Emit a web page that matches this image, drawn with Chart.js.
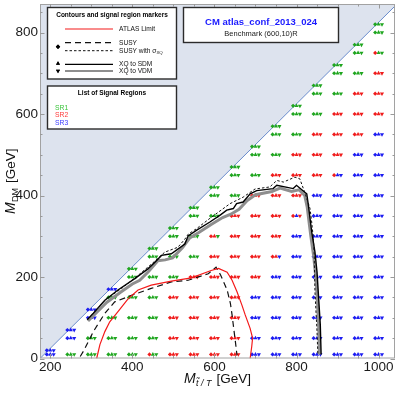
<!DOCTYPE html>
<html><head><meta charset="utf-8">
<script src="https://cdn.jsdelivr.net/npm/chart.js@4.4.1/dist/chart.umd.min.js"></script>
<style>html,body{margin:0;padding:0;background:#fff;}#wrap{width:399px;height:393px;}</style>
</head><body><div id="wrap"><canvas id="c" width="399" height="393"></canvas></div>
<script>
// ---------- data ----------
const massT = [200,250,300,350,400,450,500,550,600,650,700,750,800,850,900,950,1000];
const xTicks = [200,400,600,800,1000];
const yTicks = [0,200,400,600,800];
const dmRows = [10,50,100,150,200,250,300,350,400,450,500,550,600,650,700,750,800];
// signal-region codes per grid row (diamond = SUSY, up = XQ->SDM, down = XQ->VDM), from the first M_T that row exists
const srCodes = [
 "BBB GGG GGG GGG GGG RGG RRR RRR RRR RRR BBB BBB BBB BBB BBB BBB BBB",
 "BBB GGG GGG GGG GGG RRR RRR RRR RRR BBB BBB BBB BBB BBB BBB BBB",
 "BBB GGG GGG GGG RRR RRR RRR RRR BBB BBB BBB BBB BBB BBB BBB",
 "GGG GGG GGG RRR RRR RRR RRR BBB BBB BBB BBB BBB BBB BBB",
 "GGG GGG GGG RRR RRR RRR RRR BBB BBB BBB BBB BBB BBB",
 "GGG GGG GGG RRR RRR RRR RRB BBB BBB BBB BBB BBB",
 "GGG GGG RRG RRR RRR RRR BBB BBB BBB BBB BBB",
 "GGG GGG RRR RRR RRR RBR BBB BBB BBB BBB",
 "GGG GGG RRR RRR RRR BBB BBB BBB BBB",
 "GGG GGG RRR RRR RRR RBB BBB BBB",
 "GGG GGG RRR RRR RRR BBB BBB",
 "GGG GGG RRR RRR RRR BBB",
 "GGG GGG RRR RRR RRR",
 "GGG GGG RRR RRR",
 "GGG GGG RRR",
 "GGG RGG",
 "GGG"
];
// extra scan points close to the kinematic edge
const edgeDM = [20,70,120,170,220,270,320,370,420,470,520,570,620,670,720,770,820];
const edgeCodes = "BBB BBB BBB BBB GGG GGG GGG GGG GGG GGG GGG GGG GGG GGG GGG GGG GGG";

const atlasLimit = [[313,0],[321,34],[333,66],[345,90],[365,115],[390,147],[414,168],[446,180],[495,190],[544,198],[592,216],[610,221],[631,212],[643,192],[655,164],[667,131],[675,107],[687,74],[693,50],[691,30],[687,0]];
const susyLine = [[273,5],[282,20],[305,66],[333,111],[357,139],[398,155],[446,172],[495,188],[536,192],[585,208],[604,224],[615,205],[631,168],[639,135],[643,107],[647,74],[651,42],[655,8]];
const susyXQLine = [[300,105],[333,143],[374,172],[414,204],[447,232],[479,261],[511,273],[528,293],[536,305],[557,319],[589,344],[638,380],[670,396],[699,416],[735,421],[752,437],[768,433],[796,445],[808,441],[820,408],[833,368],[837,335],[841,295],[843,260],[845,163],[850,66],[852,10]];
const sdmLine = [[290,95],[305,111],[333,143],[365,168],[406,196],[438,220],[455,236],[471,253],[495,257],[528,281],[536,301],[557,315],[589,335],[614,352],[630,364],[646,368],[654,380],[670,384],[687,404],[703,412],[743,417],[752,425],[792,417],[800,425],[825,404],[829,376],[833,344],[837,311],[845,261],[850,212],[854,147],[858,82],[860,10]];
const vdmLine = [[292,92],[308,108],[338,138],[372,163],[400,183],[418,192],[440,214],[462,240],[480,242],[498,247],[522,272],[540,296],[562,309],[592,329],[620,346],[640,354],[660,366],[680,388],[700,402],[740,410],[760,418],[788,410],[806,414],[820,400],[826,372],[830,340],[835,300],[842,250],[847,200],[851,140],[854,80],[856,10]];
const edgeLine = [[175,0],[1045,870]];

// ---------- build ----------
const COL = {G:'#1fa61f', R:'#f01c1c', B:'#1c1cf2'};
const pts = [];
dmRows.forEach((dm, r) => {
  const cols = massT.filter(t => dm <= 10 || t - 200 >= dm);
  srCodes[r].split(' ').forEach((c, k) => pts.push({t: cols[k], dm, c}));
});
edgeCodes.split(' ').forEach((c, k) => pts.push({t: massT[k], dm: edgeDM[k], c}));

const shapes = [
  {style:'rectRot', rot:0, off:-8.3, r:2.1},
  {style:'triangle', rot:0, off:0, r:2.4},
  {style:'triangle', rot:180, off:8.3, r:2.4}
];
const pair = a => a.map(p => ({x:p[0], y:p[1]}));
const lineDs = (d, color, w, dash, order) => ({type:'scatter', data:pair(d), showLine:true, pointRadius:0,
  borderColor:color, borderWidth:w, borderDash:dash, fill:false, tension:0, order});

const datasets = [
  {type:'scatter', data:pair(edgeLine), showLine:true, pointRadius:0, borderColor:'#6a8ccc', borderWidth:1,
   fill:'end', backgroundColor:'#dde3ee', order:100},
  ...shapes.map((s, si) => ({type:'scatter', order:50,
    data: pts.map(p => ({x:p.t + s.off, y:p.dm})),
    pointStyle:s.style, pointRotation:s.rot, pointRadius:s.r, pointBorderWidth:0,
    pointBackgroundColor: pts.map(p => COL[p.c[si]])})),
  lineDs(vdmLine, '#8e8e8e', 3, [], 5),
  lineDs(sdmLine, '#000', 1.4, [], 4),
  lineDs(susyXQLine, '#111', 1, [2.5,2], 3),
  lineDs(susyLine, '#111', 1.2, [6,4], 2),
  lineDs(atlasLimit, '#f41a1a', 1.2, [], 1)
];

const F = (s, w='normal', st='normal') => `${st} ${w} ${s}px "Liberation Sans", Arial, sans-serif`;
function parts(ctx, list, x, y, align){
  ctx.save();
  let w = 0;
  list.forEach(p => { ctx.font = p.f; w += ctx.measureText(p.t).width + (p.gap||0); });
  let cx = align === 'center' ? x - w/2 : x;
  ctx.textAlign = 'left';
  list.forEach(p => { ctx.font = p.f; ctx.fillStyle = p.c || '#111'; ctx.fillText(p.t, cx, y + (p.dy||0)); cx += ctx.measureText(p.t).width + (p.gap||0); });
  ctx.restore();
}
function box(ctx, x, y, w, h){
  ctx.fillStyle='#fff'; ctx.fillRect(x,y,w,h);
  ctx.strokeStyle='#2b2b2b'; ctx.lineWidth=1.4; ctx.setLineDash([]); ctx.strokeRect(x,y,w,h);
}
function marker(ctx, style, x, y, r, rot){
  ctx.fillStyle='#000';
  Chart.helpers.drawPoint(ctx, {pointStyle:style, radius:r, rotation:rot, borderWidth:0}, x, y);
  ctx.fill();
}
function seg(ctx, x1, x2, y, color, w, dash){
  ctx.beginPath(); ctx.strokeStyle=color; ctx.lineWidth=w; ctx.setLineDash(dash);
  ctx.moveTo(x1,y); ctx.lineTo(x2,y); ctx.stroke(); ctx.setLineDash([]);
}

const decor = {
  id:'decor',
  afterDraw(chart){
    const {ctx, chartArea:a} = chart; const sx = chart.scales.x, sy = chart.scales.y;
    ctx.save();
    ctx.strokeStyle='#a2a2a2'; ctx.lineWidth=1; ctx.setLineDash([]);
    ctx.strokeRect(a.left+0.5, a.top+0.5, a.right-a.left-1, a.bottom-a.top-1);
    ctx.beginPath(); ctx.strokeStyle='#9a9a9a';
    for (let v = 200; v <= 1000; v += 50){
      const px = Math.round(sx.getPixelForValue(v)) + 0.5, L = v % 200 === 0 ? 4.5 : 2.5;
      ctx.moveTo(px, a.bottom); ctx.lineTo(px, a.bottom - L);
      ctx.moveTo(px, a.top); ctx.lineTo(px, a.top + L);
    }
    for (let v = 0; v <= 850; v += 50){
      const py = Math.round(sy.getPixelForValue(v)) + 0.5, L = v % 200 === 0 ? 4.5 : 2.5;
      ctx.moveTo(a.left, py); ctx.lineTo(a.left + L, py);
      ctx.moveTo(a.right, py); ctx.lineTo(a.right - L, py);
    }
    ctx.stroke();
    // tick labels
    ctx.fillStyle='#1a1a1a'; ctx.font=F(13.5);
    ctx.textAlign='center'; ctx.textBaseline='middle';
    xTicks.forEach(v => ctx.fillText(String(v), sx.getPixelForValue(v), 367));
    ctx.textAlign='right';
    yTicks.forEach(v => ctx.fillText(String(v), 38, sy.getPixelForValue(v)));
    // axis titles
    ctx.textBaseline='alphabetic';
    parts(ctx, [{t:'M', f:F(14,'normal','italic'), gap:0.5},
                {t:'t\u0303 / T', f:F(9,'normal','italic'), dy:3, gap:5},
                {t:'[GeV]', f:F(13.5)}], (a.left + a.right)/2, 383, 'center');
    ctx.save(); ctx.translate(15, (a.top + a.bottom)/2); ctx.rotate(-Math.PI/2);
    parts(ctx, [{t:'M', f:F(14,'normal','italic'), gap:0.5},
                {t:'DM', f:F(9), dy:3, gap:5},
                {t:'[GeV]', f:F(13.5)}], 0, 0, 'center');
    ctx.restore();
    // legend box 1
    box(ctx, 47.5, 7.5, 129, 71.5);
    ctx.textAlign='center'; ctx.textBaseline='middle'; ctx.fillStyle='#000';
    ctx.font=F(6.5,'bold'); ctx.fillText('Contours and signal region markers', 112, 15);
    seg(ctx, 65, 113, 29, '#f41a1a', 1.2, []);
    seg(ctx, 65, 113, 42.7, '#111', 1.2, [6,4]);
    seg(ctx, 65, 113, 50.7, '#111', 1, [2.5,2]);
    seg(ctx, 65, 113, 71, '#8e8e8e', 1.8, []);
    seg(ctx, 65, 113, 64.3, '#000', 1.2, []);
    marker(ctx, 'rectRot', 58, 46.7, 2.2, 0);
    marker(ctx, 'triangle', 58, 63.6, 2.3, 0);
    marker(ctx, 'triangle', 58, 71, 2.3, 180);
    ctx.textAlign='left';
    ctx.font=F(6.6); ctx.fillStyle='#111';
    ctx.fillText('ATLAS Limit', 119, 29);
    ctx.fillText('SUSY', 119, 43);
    parts(ctx, [{t:'SUSY with \u03c3', f:F(6.6)}, {t:'XQ', f:F(4.4), dy:1.6}], 119, 51, 'left');
    ctx.font=F(6.6); ctx.fillStyle='#111'; ctx.textAlign='left';
    ctx.fillText('XQ to SDM', 119, 64.3);
    ctx.fillText('XQ to VDM', 119, 71.3);
    // legend box 2
    box(ctx, 47.5, 86, 129, 43);
    ctx.textAlign='center'; ctx.font=F(6.5,'bold'); ctx.fillStyle='#000';
    ctx.fillText('List of Signal Regions', 112, 93.7);
    ctx.textAlign='left'; ctx.font=F(6.8);
    ctx.fillStyle='#3bc43b'; ctx.fillText('SR1', 55, 107.7);
    ctx.fillStyle='#ff3838'; ctx.fillText('SR2', 55, 115.2);
    ctx.fillStyle='#3a3aff'; ctx.fillText('SR3', 55, 122.7);
    // title box
    box(ctx, 183.5, 7.5, 155, 35);
    ctx.textAlign='center';
    ctx.fillStyle='#1a1aff'; ctx.font=F(9.5,'bold'); ctx.fillText('CM atlas_conf_2013_024', 261, 22.5);
    ctx.fillStyle='#222'; ctx.font=F(7.5); ctx.fillText('Benchmark (600,10)R', 261, 33.5);
    ctx.restore();
  }
};

new Chart(document.getElementById('c'), {
  type:'scatter',
  data:{datasets},
  options:{
    responsive:false, animation:false, devicePixelRatio:1, events:[],
    layout:{padding:{left:40, right:4, top:1, bottom:34.5}},
    scales:{
      x:{type:'linear', min:175, max:1040, display:false},
      y:{type:'linear', min:0, max:870, display:false}
    },
    plugins:{legend:{display:false}, tooltip:{enabled:false}}
  },
  plugins:[decor]
});
</script></body></html>
